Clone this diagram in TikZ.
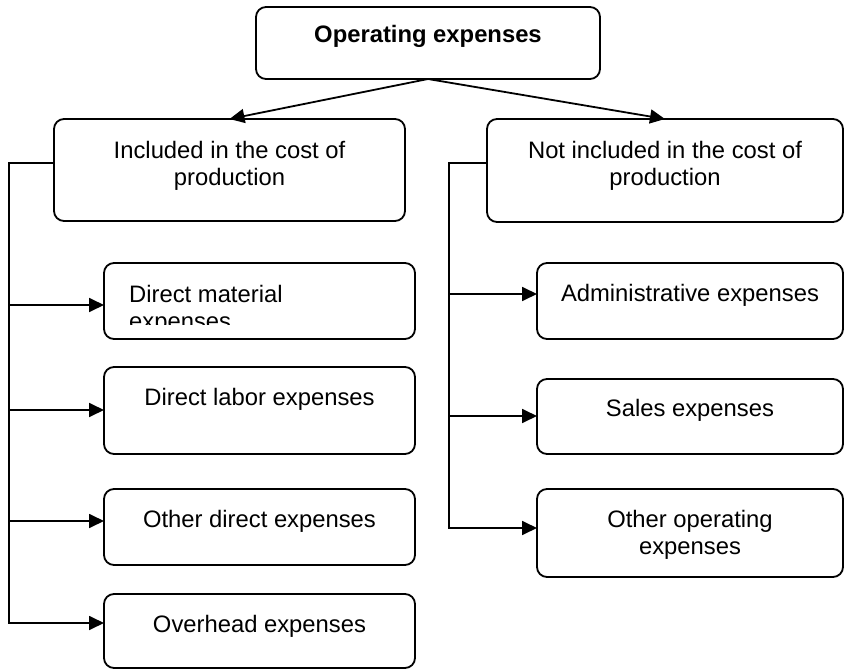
\documentclass[tikz,border=0pt]{standalone}
\usepackage{fontspec}
\setmainfont{Liberation Sans}
\usetikzlibrary{arrows.meta}
\begin{document}
\begin{tikzpicture}[x=1pt,y=-1pt,
  box/.style={draw, line width=1.8pt, rounded corners=10pt, anchor=north west, inner sep=0pt, outer sep=0pt},
  txt/.style={font=\fontsize{23.8}{27}\selectfont, inner sep=0pt, anchor=base, align=center},
  conn/.style={line width=1.8pt},
  arr/.style={conn, -{Triangle[length=15pt,width=14pt]}}]
\useasboundingbox (0,0) rectangle (844,669);
% boxes
\node[box, minimum width=344pt, minimum height=72pt] (top) at (256,7) {};
\node[box, minimum width=351pt, minimum height=102pt] (inc) at (54,119) {};
\node[box, minimum width=356pt, minimum height=103pt] (notinc) at (487,119) {};
\node[box, minimum width=311pt, minimum height=76pt] (b1) at (104,263) {};
\node[box, minimum width=311pt, minimum height=87pt] (b2) at (104,367) {};
\node[box, minimum width=311pt, minimum height=76pt] (b3) at (104,489) {};
\node[box, minimum width=311pt, minimum height=74pt] (b4) at (104,594) {};
\node[box, minimum width=306pt, minimum height=76pt] (r1) at (537,263) {};
\node[box, minimum width=306pt, minimum height=75pt] (r2) at (537,379) {};
\node[box, minimum width=306pt, minimum height=88pt] (r3) at (537,489) {};
% texts (multi-line nodes: base = last line's baseline)
\node[txt] (ttop) at (428,43) {\bfseries Operating expenses};
\node[txt] (tinc) at (229.5,185) {Included in the cost of\\production};
\node[txt] (tnot) at (665,185) {Not included in the cost of\\production};
\begin{scope}
\clip (104,263) rectangle (415,324);
\node[txt, anchor=base west, align=left] (tb1) at (129,329) {Direct material\\expenses};
\end{scope}
\node[txt] (tb2) at (259.5,405) {Direct labor expenses};
\node[txt] (tb3) at (259.5,527) {Other direct expenses};
\node[txt] (tb4) at (259.5,632) {Overhead expenses};
\node[txt] (tr1) at (690,301) {Administrative expenses};
\node[txt] (tr2) at (690,416) {Sales expenses};
\node[txt] (tr3) at (690,554) {Other operating\\expenses};
% connectors
\draw[arr] (top.south) -- (inc.north);
\draw[arr] (top.south) -- (notinc.north);
\coordinate (lt) at (9,163);
\coordinate (lb) at (9,623);
\coordinate (l1) at (9,305);
\coordinate (l2) at (9,410);
\coordinate (l3) at (9,521);
\draw[arr] (inc.west |- lt) -- (lt) -- (lb) -- (lb -| b4.west);
\draw[arr] (l1) -- (l1 -| b1.west);
\draw[arr] (l2) -- (l2 -| b2.west);
\draw[arr] (l3) -- (l3 -| b3.west);
\coordinate (rt) at (449,163);
\coordinate (rb) at (449,528);
\coordinate (q1) at (449,294);
\coordinate (q2) at (449,416);
\draw[arr] (notinc.west |- rt) -- (rt) -- (rb) -- (rb -| r3.west);
\draw[arr] (q1) -- (q1 -| r1.west);
\draw[arr] (q2) -- (q2 -| r2.west);
\end{tikzpicture}
\end{document}
